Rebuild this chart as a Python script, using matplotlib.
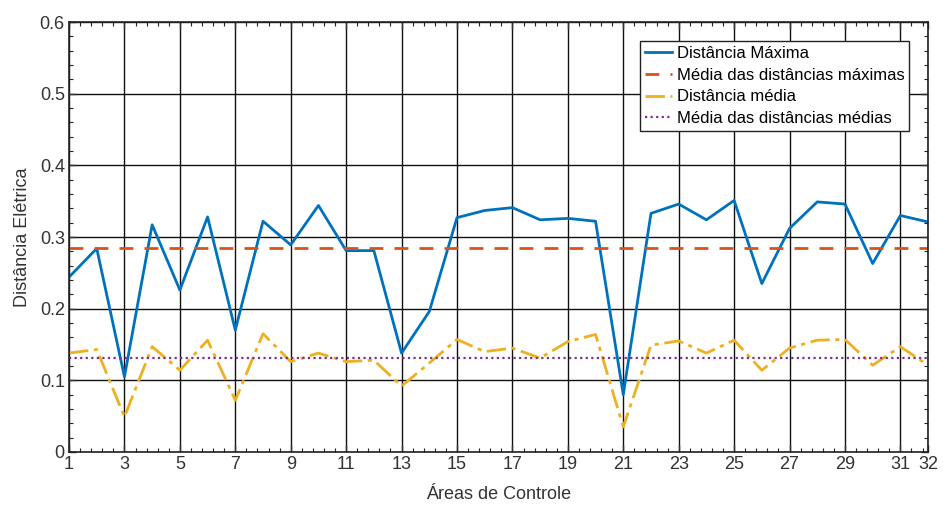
import numpy as np
import matplotlib
matplotlib.use("Agg")
import matplotlib.pyplot as plt

# ── Data ──────────────────────────────────────────────────────────
areas = np.arange(1, 33)

dist_max = [0.244, 0.284, 0.105, 0.317, 0.226, 0.328, 0.170, 0.322, 0.289, 0.344,
            0.281, 0.281, 0.138, 0.196, 0.327, 0.337, 0.341, 0.324, 0.326, 0.322,
            0.080, 0.333, 0.346, 0.324, 0.351, 0.235, 0.312, 0.349, 0.346, 0.263,
            0.330, 0.321]

dist_med = [0.138, 0.143, 0.049, 0.147, 0.114, 0.156, 0.072, 0.165, 0.126, 0.138,
            0.126, 0.128, 0.092, 0.124, 0.157, 0.140, 0.145, 0.131, 0.154, 0.164,
            0.035, 0.149, 0.155, 0.138, 0.156, 0.114, 0.145, 0.156, 0.157, 0.121,
            0.147, 0.121]

xtick_vals = [1, 3, 5, 7, 9, 11, 13, 15, 17, 19, 21, 23, 25, 27, 29, 31, 32]

# ── Style ─────────────────────────────────────────────────────────
COLORS = {
    "max":      "#0072BD",
    "max_mean": "#D95319",
    "med":      "#EDB120",
    "med_mean": "#7E2F8E",
}

plt.rcParams.update({
    "font.family": ["Liberation Sans", "DejaVu Sans"],
    "xtick.direction": "in",
    "ytick.direction": "in",
})

fig = plt.figure(figsize=(9.43, 5.13), dpi=100)
ax = fig.add_axes([0.0732, 0.119, 0.911, 0.838])

ax.plot(areas, dist_max, color=COLORS["max"], lw=2.0, label="Distância Máxima")
ax.plot([areas[0], areas[-1]], [np.mean(dist_max)] * 2, color=COLORS["max_mean"],
        lw=2.0, ls=(0, (5, 4)), label="Média das distâncias máximas")
ax.plot(areas, dist_med, color=COLORS["med"], lw=2.0, ls=(0, (7, 2, 1.5, 2)),
        label="Distância média")
ax.plot([areas[0], areas[-1]], [np.mean(dist_med)] * 2, color=COLORS["med_mean"],
        lw=1.6, ls=(0, (1, 1.5)), label="Média das distâncias médias")

ax.set_xlim(1, 32)
ax.set_ylim(0, 0.6)
ax.set_xticks(xtick_vals)
ax.set_xticklabels([str(v) for v in xtick_vals])
minor_x = [v for v in np.arange(1, 32.01, 0.4) if not np.isclose(v, xtick_vals).any()]
ax.set_xticks(minor_x, minor=True)
ax.set_yticks(np.arange(0, 0.61, 0.1))
ax.set_yticklabels(["0", "0.1", "0.2", "0.3", "0.4", "0.5", "0.6"])
ax.set_yticks(np.arange(0, 0.61, 0.02), minor=True)

ax.tick_params(which="both", top=True, right=True, color="#222222")
ax.tick_params(which="major", length=5, width=1, labelsize=13, colors="#333333", pad=3)
ax.tick_params(which="minor", length=3, width=0.8)

ax.grid(True, which="major", color="#111111", lw=1.0)
for s in ax.spines.values():
    s.set_color("#222222")
    s.set_linewidth(1.2)

ax.set_xlabel("Áreas de Controle", fontsize=13, color="#333333", labelpad=9)
ax.set_ylabel("Distância Elétrica", fontsize=13, color="#333333", labelpad=6)

leg = ax.legend(loc="upper right", bbox_to_anchor=(0.988, 0.975), fontsize=12,
                handlelength=1.6, handletextpad=0.3, labelspacing=0.4,
                borderpad=0.3, fancybox=False, framealpha=1)
leg.get_frame().set_edgecolor("#222222")
leg.get_frame().set_linewidth(1.0)

fig.savefig("out.png", dpi=100)
